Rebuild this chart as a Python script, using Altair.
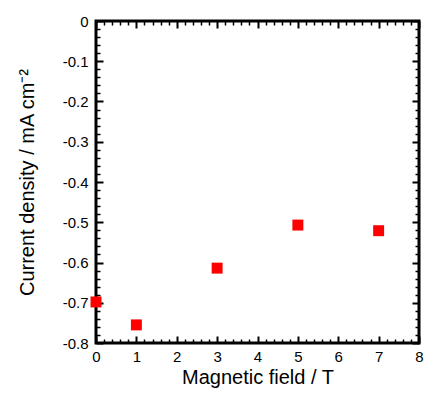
import altair as alt
import pandas as pd

# Data
field_T = [0, 1, 3, 5, 7]
current_density = [-0.698, -0.755, -0.614, -0.507, -0.521]

x_major = [0, 1, 2, 3, 4, 5, 6, 7, 8]
y_major = [-0.8, -0.7, -0.6, -0.5, -0.4, -0.3, -0.2, -0.1, 0.0]
x_minor = [round(i * 0.2, 2) for i in range(41) if i % 5 != 0]
y_minor = [round(-0.8 + i * 0.02, 3) for i in range(41) if i % 5 != 0]

df = pd.DataFrame({"x": field_T, "y": current_density})

FONT = "Liberation Sans"
W, H = 323, 322
xscale = alt.Scale(domain=[0, 8], nice=False, zero=False)
yscale = alt.Scale(domain=[-0.8, 0], nice=False, zero=False)

base = alt.Chart(df)

points = base.mark_square(size=120, color="#ff0000", opacity=1).encode(
    x=alt.X("x:Q", scale=xscale, axis=alt.Axis(
        orient="bottom", values=x_major, ticks=False, tickSize=0, domain=False,
        grid=False, labelPadding=6, labelFontSize=15, labelFont=FONT,
        labelColor="black", labelFlush=False, labelOverlap=False,
        title="Magnetic field / T", titleFont=FONT, titleFontSize=20,
        titleFontWeight="normal", titleColor="black", titleBaseline="alphabetic",
        titleX=W / 2, titleY=40, titleAlign="center")),
    y=alt.Y("y:Q", scale=yscale, axis=alt.Axis(
        orient="left", values=y_major, ticks=False, tickSize=0, domain=False,
        grid=False, labelPadding=8, labelFontSize=15, labelFont=FONT,
        labelColor="black", labelFlush=False, labelOverlap=False,
        labelExpr="datum.value == 0 ? '0' : replace(format(datum.value, '.1f'), '\u2212', '-')",
        title="Current density / mA cm\u207b\u00b2", titleFont=FONT, titleFontSize=20,
        titleFontWeight="normal", titleColor="black", titleBaseline="alphabetic",
        titleAngle=-90, titleAlign="center", titleX=-63, titleY=H / 2)),
)


def tick_layer(xorient, yorient, xvals, yvals, size, width):
    common = dict(labels=False, domain=False, grid=False, title=None,
                  ticks=True, tickSize=size, tickWidth=width,
                  tickColor="black", offset=-size)
    return base.mark_point(opacity=0).encode(
        x=alt.X("x:Q", scale=xscale, axis=alt.Axis(orient=xorient, values=xvals, **common)),
        y=alt.Y("y:Q", scale=yscale, axis=alt.Axis(orient=yorient, values=yvals, **common)),
    )


layers = [
    points,
    tick_layer("bottom", "left", x_major, y_major, 7, 2),
    tick_layer("bottom", "left", x_minor, y_minor, 4, 1.5),
    tick_layer("top", "right", x_major, y_major, 7, 2),
    tick_layer("top", "right", x_minor, y_minor, 4, 1.5),
]

chart = alt.layer(*layers).resolve_axis(
    x="independent", y="independent"
).properties(
    width=W, height=H,
    autosize=alt.AutoSizeParams(type="none"),
    padding={"left": 88, "top": 13, "right": 5, "bottom": 45},
).configure_view(
    stroke="black", strokeWidth=3
)

chart.save("out.html", embed_options={"renderer": "svg", "actions": False})
